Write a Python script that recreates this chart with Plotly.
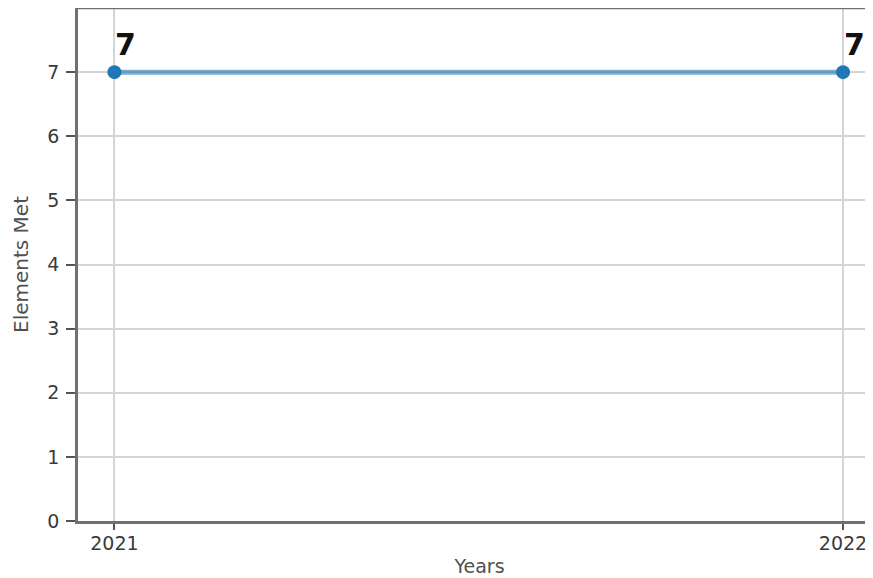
import plotly.graph_objects as go

years = [2021, 2022]
elements_met = [7, 7]
y_ticks = [0, 1, 2, 3, 4, 5, 6, 7]

fig = go.Figure()
fig.add_trace(go.Scatter(
    x=years, y=elements_met, mode="lines",
    line=dict(color="rgba(31,119,180,0.6)", width=5),
    hoverinfo="skip", showlegend=False,
))
fig.add_trace(go.Scatter(
    x=years, y=elements_met, mode="markers",
    marker=dict(color="#1f77b4", size=14),
    showlegend=False,
))
for xv, yv in zip(years, elements_met):
    fig.add_annotation(x=xv, y=yv, text=f"<b>{yv}</b>", showarrow=False,
                       xshift=11, yshift=28,
                       font=dict(family="DejaVu Sans", size=30, color="#111"))

# top spine (right spine is cropped away in the reference)
fig.add_shape(type="line", xref="paper", yref="paper", x0=0, x1=1, y0=1, y1=1,
              line=dict(color="#707070", width=2.5))

fig.update_layout(
    width=873, height=578,
    margin=dict(l=70, r=0, t=0, b=65),
    paper_bgcolor="white", plot_bgcolor="white",
    font=dict(family="DejaVu Sans", size=19, color="#3a3a3a"),
    xaxis=dict(
        range=[2020.95, 2022 + 38 / 729], tickvals=years,
        ticktext=[str(y) for y in years],
        showgrid=True, gridcolor="#d4d4d4", gridwidth=2,
        showline=True, linecolor="#707070", linewidth=2.5,
        ticks="outside", ticklen=6, tickwidth=1.5, tickcolor="#555", zeroline=False,
        ticklabelstandoff=-3, ticklabeloverflow="allow",
        title=dict(text="Years", font=dict(size=19, color="#505050"), standoff=8),
    ),
    yaxis=dict(
        range=[0, 8], tickvals=y_ticks,
        showgrid=True, gridcolor="#d4d4d4", gridwidth=2,
        showline=True, linecolor="#707070", linewidth=2.5,
        ticks="outside", ticklen=9, tickwidth=1.5, tickcolor="#555", zeroline=False,
        ticklabelstandoff=3,
        title=dict(text="Elements Met", font=dict(size=20, color="#505050"), standoff=14),
    ),
)
fig.write_html("out.html")
